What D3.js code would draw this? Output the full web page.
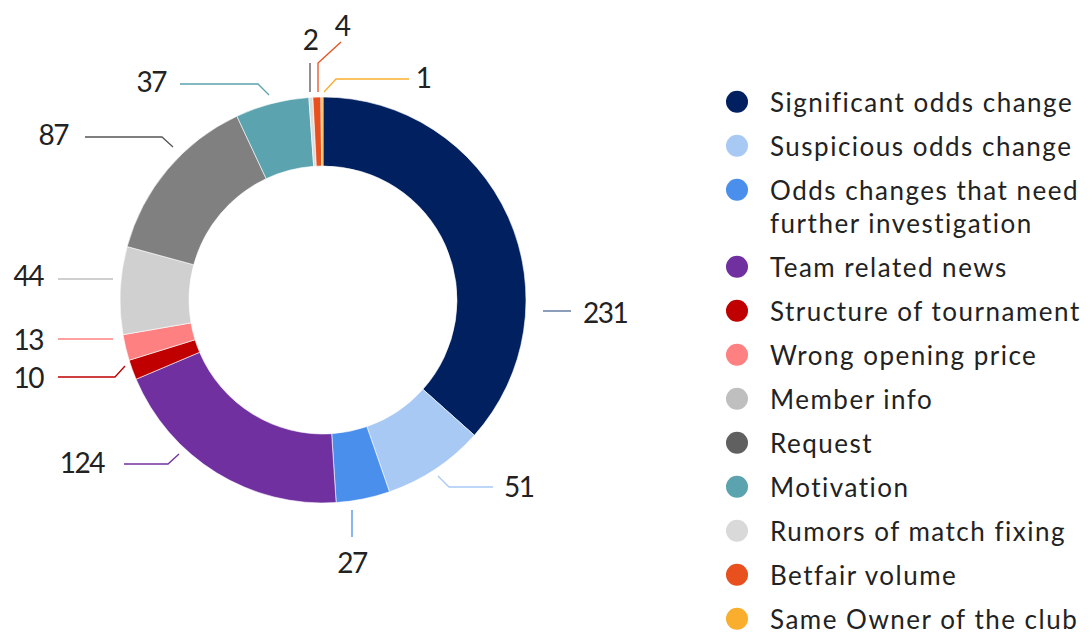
<html>
    <head>
        <script src="https://d3js.org/d3.v7.min.js"></script>
        <style>
            body { margin: 0; background: #fff; }
            text { font-family: Lato, "Noto Sans", sans-serif; fill: #222; }
            .slice { stroke: #fff; stroke-width: 0.6px; }
            .leader { fill: none; stroke-width: 1.3px; }
            .value { font-size: 28px; letter-spacing: -1.5px; }
            .legend-label { font-size: 26px; letter-spacing: 1.5px; }
        </style>
    </head>
    <body>
        <svg id="chart" width="1091" height="633"></svg>

        <script>
            // data, in slice order (clockwise from 12 o'clock)
            const categories = ["Significant odds change", "Suspicious odds change",
                                "Odds changes that need further investigation", "Team related news",
                                "Structure of tournament", "Wrong opening price", "Member info",
                                "Request", "Motivation", "Rumors of match fixing",
                                "Betfair volume", "Same Owner of the club"];
            const values = [231, 51, 27, 124, 10, 13, 44, 87, 37, 2, 4, 1];

            // colours
            const sliceColors  = ["#002060", "#a9c9f5", "#4a8fec", "#7030a0", "#c00000", "#ff8080",
                                  "#d0d0d0", "#808080", "#5ba3ae", "#dcdcdc", "#e8501e", "#f9ae2e"];
            const legendColors = ["#002060", "#a9c9f5", "#4a8fec", "#7030a0", "#c00000", "#ff8080",
                                  "#bfbfbf", "#606060", "#5ba3ae", "#d9d9d9", "#e8501e", "#f9ae2e"];
            const leaderColors = ["#4f6a96", "#a9c9f5", "#4a8fec", "#7030a0", "#c00000", "#ff8080",
                                  "#bfbfbf", "#555555", "#5ba3ae", "#555555", "#e8501e", "#f9ae2e"];

            // hand placed label layout: leader polyline + text anchor
            const leaders = [
                {pts: [[543, 311], [571, 311]],             tx: 583, ty: 323, anchor: "start"},
                {pts: [[438, 476], [449, 487], [493, 487]], tx: 504, ty: 497, anchor: "start"},
                {pts: [[352, 510], [352, 537]],             tx: 352, ty: 573, anchor: "middle"},
                {pts: [[179, 454], [168, 464], [124, 464]], tx: 104, ty: 473, anchor: "end"},
                {pts: [[125, 366], [115, 377], [58, 377]],  tx: 43,  ty: 388, anchor: "end"},
                {pts: [[113, 339], [58, 339]],              tx: 43,  ty: 350, anchor: "end"},
                {pts: [[113, 279], [58, 279]],              tx: 43,  ty: 286, anchor: "end"},
                {pts: [[173, 147], [162, 137], [85, 137]],  tx: 68,  ty: 145, anchor: "end"},
                {pts: [[269, 95], [258, 84], [180, 84]],    tx: 166, ty: 92,  anchor: "end"},
                {pts: [[310, 92], [310, 63]],               tx: 310, ty: 50,  anchor: "middle"},
                {pts: [[318, 92], [318, 63], [341, 42]],    tx: 342, ty: 36,  anchor: "middle"},
                {pts: [[324, 92], [336, 79], [409, 79]],    tx: 423, ty: 88,  anchor: "middle"}
            ];

            const svg = d3.select("#chart");
            const cx = 323, cy = 300;
            const outerR = 203, innerR = 134;

            const pie = d3.pie().sort(null).value(d => d);
            const arcGen = d3.arc().innerRadius(innerR).outerRadius(outerR);

            const ring = svg.append("g")
                .attr("transform", "translate(" + cx + "," + cy + ")");

            ring.selectAll("path")
                .data(pie(values))
                .enter()
                .append("path")
                .attr("class", "slice")
                .attr("d", arcGen)
                .style("fill", (d, i) => sliceColors[i]);

            // leader lines and value labels
            const line = d3.line();
            const labels = svg.append("g");

            labels.selectAll("path")
                .data(leaders)
                .enter()
                .append("path")
                .attr("class", "leader")
                .attr("d", d => line(d.pts))
                .style("stroke", (d, i) => leaderColors[i]);

            labels.selectAll("text")
                .data(leaders)
                .enter()
                .append("text")
                .attr("class", "value")
                .attr("x", d => d.tx)
                .attr("y", d => d.ty)
                .attr("text-anchor", d => d.anchor)
                .text((d, i) => values[i]);

            // legend
            const legendX = 737, legendTop = 101.7, rowStep = 44, wrapExtra = 33;
            const wrapped = {2: ["Odds changes that need", "further investigation"]};

            const legend = svg.append("g");
            const rows = legend.selectAll("g")
                .data(categories)
                .enter()
                .append("g")
                .attr("transform", (d, i) => "translate(" + legendX + "," +
                      (legendTop + i * rowStep + (i > 2 ? wrapExtra : 0)) + ")");

            rows.append("circle")
                .attr("r", 11)
                .style("fill", (d, i) => legendColors[i]);

            rows.append("text")
                .attr("class", "legend-label")
                .attr("x", 33)
                .attr("y", 10)
                .each(function(d, i) {
                    const parts = wrapped[i] || [d];
                    d3.select(this).selectAll("tspan")
                        .data(parts)
                        .enter()
                        .append("tspan")
                        .attr("x", 33)
                        .attr("dy", (p, j) => j === 0 ? 0 : 33)
                        .text(p => p);
                });
        </script>
    </body>
</html>
